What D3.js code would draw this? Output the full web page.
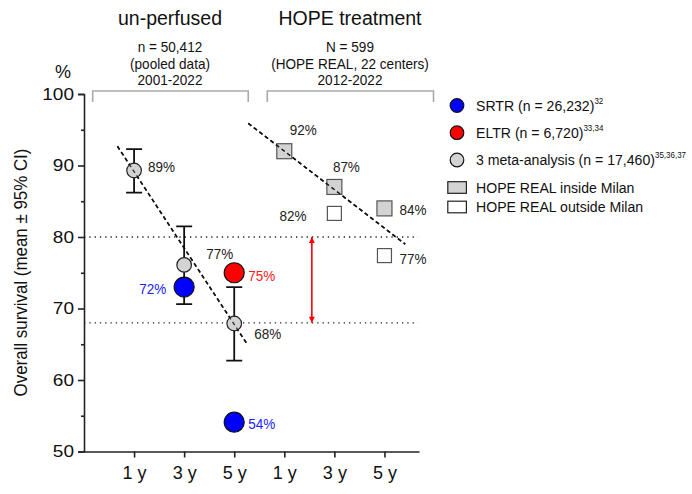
<!DOCTYPE html>
<html>
<head>
<meta charset="utf-8">
<title>Overall survival</title>
<script src="https://d3js.org/d3.v7.min.js"></script>
<style>
  body { margin: 0; background: #fff; }
  text { font-family: "Liberation Sans", Arial, sans-serif; }
</style>
</head>
<body>
<script>
// data
const xLabels = ["1 y", "3 y", "5 y", "1 y", "3 y", "5 y"];
const metaMean = [89.3, 76.1, 67.9];
const metaLow = [86.2, 70.6, 62.7];
const metaHigh = [92.3, 81.5, 73.0];
const metaLabels = ["89%", "77%", "68%"];
const srtrPos = [2, 3];
const srtrVals = [73.0, 54.1];
const srtrLabels = ["72%", "54%"];
const eltrPos = [3];
const eltrVals = [75.0];
const eltrLabels = ["75%"];
const insidePos = [4, 5, 6];
const insideVals = [92.0, 87.0, 84.0];
const insideLabels = ["92%", "87%", "84%"];
const outsidePos = [5, 6];
const outsideVals = [83.3, 77.4];
const outsideLabels = ["82%", "77%"];
const trendLeft = [[0.667, 92.7], [3.25, 65.1]];
const trendRight = [[3.28, 95.9], [6.415, 79.0]];
const refLines = [80, 68];
const groups = [
  { title: "un-perfused", sub: ["n = 50,412", "(pooled data)", "2001-2022"], from: 0.174, to: 3.28 },
  { title: "HOPE treatment", sub: ["N = 599", "(HOPE REAL, 22 centers)", "2012-2022"], from: 3.66, to: 6.98 }
];
const legendItems = [
  { shape: "circle", fill: "#0000ff", text: "SRTR (n = 26,232)", sup: "32" },
  { shape: "circle", fill: "#ff0000", text: "ELTR (n = 6,720)", sup: "33,34" },
  { shape: "circle", fill: "#d3d3d3", text: "3 meta-analysis (n = 17,460)", sup: "35,36,37" },
  { shape: "rect", fill: "#d3d3d3", text: "HOPE REAL inside Milan", sup: "" },
  { shape: "rect", fill: "#ffffff", text: "HOPE REAL outside Milan", sup: "" }
];

const W = 692, H = 494;
const svg = d3.select("body").append("svg").attr("width", W).attr("height", H);

const x = d3.scaleLinear().domain([0, 6.69]).range([84, 419]);
const y = d3.scaleLinear().domain([50, 100]).range([451.5, 94]);

// text helper with horizontal squeeze/stretch
function txt(px, py, s, size, sx, color, anchor) {
  return svg.append("text")
    .attr("transform", `translate(${px},${py}) scale(${sx},1)`)
    .attr("text-anchor", anchor || "start").attr("font-size", size)
    .attr("fill", color || "#111").text(s);
}

// axes
const yAxis = d3.axisLeft(y).tickValues([50, 60, 70, 80, 90, 100]).tickSize(6).tickPadding(4);
const gy = svg.append("g").attr("transform", `translate(${x(0)},0)`).call(yAxis);
gy.selectAll("text").attr("font-size", 17).attr("fill", "#111")
  .attr("x", -10 / 1.12).attr("transform", "scale(1.12,1)");
gy.select(".domain").attr("stroke-width", 1.6).attr("stroke", "#222");
gy.selectAll(".tick line").attr("stroke-width", 1.6).attr("stroke", "#222");
svg.append("g").attr("transform", `translate(${x(0)},0)`)
  .call(d3.axisLeft(y).tickValues([55, 65, 75, 85, 95]).tickSize(3).tickFormat(""))
  .call(g => g.select(".domain").remove())
  .selectAll("line").attr("stroke-width", 1.6).attr("stroke", "#222");

const xAxis = d3.axisBottom(x).tickValues([1, 2, 3, 4, 5, 6])
  .tickFormat((d, i) => xLabels[i]).tickSize(6).tickSizeOuter(0).tickPadding(9);
const gx = svg.append("g").attr("transform", `translate(0,${y(50)})`).call(xAxis);
gx.selectAll("text").attr("font-size", 18).attr("fill", "#111");
gx.select(".domain").attr("stroke-width", 1.6).attr("stroke", "#222");
gx.selectAll(".tick line").attr("stroke-width", 1.6).attr("stroke", "#222");

svg.append("text").attr("transform", `translate(27,272.5) rotate(-90) scale(0.94,1)`)
  .attr("text-anchor", "middle").attr("font-size", 18).attr("fill", "#111")
  .text("Overall survival (mean ± 95% CI)");
txt(63, 78, "%", 18, 1, "#111", "middle");

// group headers and brackets
groups.forEach((g, k) => {
  const x0 = x(g.from), x1 = x(g.to);
  const cx = k === 0 ? 170 : 350;
  txt(cx, 25, g.title, 19.5, 1, "#111", "middle");
  g.sub.forEach((s, i) => txt(cx, 52 + i * 16.5, s, 14, 0.97, "#111", "middle"));
  svg.append("path")
    .attr("d", `M${x0},${y(100) + 8}V${y(100) - 3}H${x1}V${y(100) + 8}`)
    .attr("fill", "none").attr("stroke", "#aaa").attr("stroke-width", 1.6);
});

// reference lines
refLines.forEach(v => svg.append("line")
  .attr("x1", x(0)).attr("x2", 418).attr("y1", y(v)).attr("y2", y(v))
  .attr("stroke", "#222").attr("stroke-width", 1.3).attr("stroke-dasharray", "1.3,4"));

// red double arrow
const defs = svg.append("defs");
defs.append("marker").attr("id", "arr").attr("viewBox", "0 0 10 10").attr("refX", 10).attr("refY", 5)
  .attr("markerWidth", 10).attr("markerHeight", 6).attr("orient", "auto-start-reverse")
  .attr("markerUnits", "userSpaceOnUse")
  .append("path").attr("d", "M0,0L10,5L0,10Z").attr("fill", "#ff0000");
svg.append("line").attr("x1", x(4.55)).attr("x2", x(4.55))
  .attr("y1", y(refLines[0])).attr("y2", y(refLines[1]))
  .attr("stroke", "#ff0000").attr("stroke-width", 1.6)
  .attr("marker-start", "url(#arr)").attr("marker-end", "url(#arr)");

// trend lines
const line = d3.line().x(d => x(d[0])).y(d => y(d[1]));
[trendLeft, trendRight].forEach(t => svg.append("path").attr("d", line(t))
  .attr("fill", "none").attr("stroke", "#111").attr("stroke-width", 1.6).attr("stroke-dasharray", "4,3"));

// error bars
metaMean.forEach((m, i) => {
  const cx = x(i + 1);
  svg.append("path")
    .attr("d", `M${cx - 8},${y(metaHigh[i])}H${cx + 8}M${cx},${y(metaHigh[i])}V${y(metaLow[i])}M${cx - 8},${y(metaLow[i])}H${cx + 8}`)
    .attr("fill", "none").attr("stroke", "#111").attr("stroke-width", 1.8);
});

// meta circles
metaMean.forEach((m, i) => svg.append("circle").attr("cx", x(i + 1)).attr("cy", y(m)).attr("r", 7.3)
  .attr("fill", "#d3d3d3").attr("stroke", "#222").attr("stroke-width", 1.2));
// dashes show through the meta circles in the reference
svg.append("path").attr("d", line(trendLeft))
  .attr("fill", "none").attr("stroke", "#111").attr("stroke-width", 1.4).attr("stroke-dasharray", "4,3")
  .attr("opacity", 0.8);

srtrVals.forEach((v, i) => svg.append("circle").attr("cx", x(srtrPos[i])).attr("cy", y(v)).attr("r", 10)
  .attr("fill", "#0000ff").attr("stroke", "#111").attr("stroke-width", 1.2));
eltrVals.forEach((v, i) => svg.append("circle").attr("cx", x(eltrPos[i])).attr("cy", y(v)).attr("r", 10)
  .attr("fill", "#ff0000").attr("stroke", "#111").attr("stroke-width", 1.2));

insideVals.forEach((v, i) => svg.append("rect").attr("x", x(insidePos[i]) - 7.5).attr("y", y(v) - 7.5)
  .attr("width", 15).attr("height", 15).attr("fill", "#d3d3d3").attr("stroke", "#555").attr("stroke-width", 1.2));
svg.append("path").attr("d", line(trendRight))
  .attr("fill", "none").attr("stroke", "#111").attr("stroke-width", 1.4).attr("stroke-dasharray", "4,3");
outsideVals.forEach((v, i) => svg.append("rect").attr("x", x(outsidePos[i]) - 7).attr("y", y(v) - 7)
  .attr("width", 14).attr("height", 14).attr("fill", "#fff").attr("stroke", "#555").attr("stroke-width", 1.2));

// value labels
function label(px, py, s, color, anchor) {
  txt(px, py + 5.5, s, 15, 0.9, color, anchor);
}
const metaOff = [[14, -4], [22, -11], [20, 10]];
metaLabels.forEach((t, i) => label(x(i + 1) + metaOff[i][0], y(metaMean[i]) + metaOff[i][1], t, "#222"));
label(x(srtrPos[0]) - 18, y(srtrVals[0]) + 1.5, srtrLabels[0], "#2020ff", "end");
label(x(srtrPos[1]) + 14, y(srtrVals[1]) + 1, srtrLabels[1], "#2020ff");
label(x(eltrPos[0]) + 14, y(eltrVals[0]) + 3, eltrLabels[0], "#ff2020");
label(x(insidePos[0]) + 19, y(insideVals[0]) - 22, insideLabels[0], "#222", "middle");
label(x(insidePos[1]) + 12, y(insideVals[1]) - 20, insideLabels[1], "#222", "middle");
label(x(insidePos[2]) + 15, y(insideVals[2]) + 1, insideLabels[2], "#222");
label(x(outsidePos[0]) - 28, y(outsideVals[0]) + 2, outsideLabels[0], "#222", "end");
label(x(outsidePos[1]) + 15, y(outsideVals[1]) + 3, outsideLabels[1], "#222");

// legend
const legY = [105.5, 132.7, 160, 187.5, 207];
legendItems.forEach((d, i) => {
  const ly = legY[i];
  if (d.shape === "circle") {
    svg.append("circle").attr("cx", 457).attr("cy", ly).attr("r", 6.8)
      .attr("fill", d.fill).attr("stroke", "#111").attr("stroke-width", 1.2);
  } else {
    svg.append("rect").attr("x", 447.8).attr("y", ly - 5.8).attr("width", 18.6).attr("height", 11.6)
      .attr("fill", d.fill).attr("stroke", "#222").attr("stroke-width", 1.2);
  }
  const t = txt(476, ly + 5.3, d.text, 15, 0.94, "#111");
  if (d.sup) t.append("tspan").attr("font-size", 8.5).attr("dy", -7).text(d.sup);
});
</script>
</body>
</html>
